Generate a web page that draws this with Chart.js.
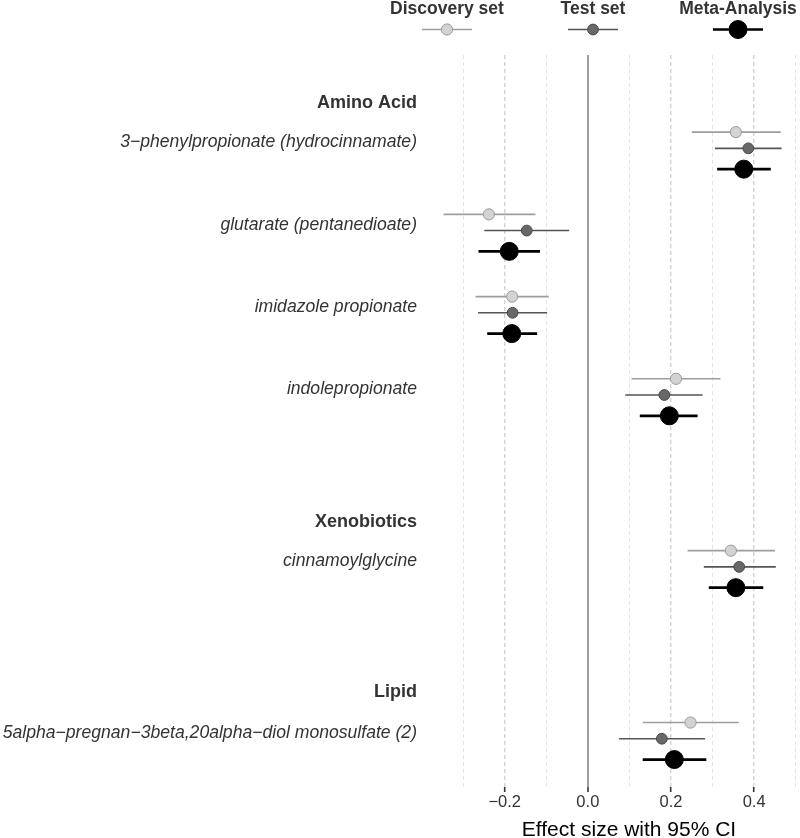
<!DOCTYPE html>
<html>
<head>
<meta charset="utf-8">
<title>Effect size with 95% CI</title>
<script src="https://cdn.jsdelivr.net/npm/chart.js@4.4.1/dist/chart.umd.min.js"></script>
<style>
  html, body { margin: 0; padding: 0; background: #fff; overflow: hidden; }
  /* the original figure is cropped on the right, so the panel runs past the window */
  #wrap { width: 824px; height: 838px; position: relative; }
</style>
</head>
<body>
<div id="wrap"><canvas id="forest"></canvas></div>
<script>
// metabolites, top to bottom, and the class headers
const metabolites = [
  '3\u2212phenylpropionate (hydrocinnamate)',
  'glutarate (pentanedioate)',
  'imidazole propionate',
  'indolepropionate',
  'cinnamoylglycine',
  '5alpha\u2212pregnan\u22123beta,20alpha\u2212diol monosulfate (2)'
];
const classes = ['Amino Acid', 'Xenobiotics', 'Lipid'];

// effect sizes and 95% CI bounds
const discoveryEst = [0.356, -0.238, -0.182, 0.212, 0.344, 0.247];
const discoveryLo  = [0.250, -0.347, -0.270, 0.105, 0.240, 0.132];
const discoveryHi  = [0.464, -0.126, -0.094, 0.319, 0.450, 0.363];

const testEst = [0.386, -0.147, -0.181, 0.184, 0.364, 0.178];
const testLo  = [0.306, -0.249, -0.264, 0.090, 0.279, 0.075];
const testHi  = [0.466, -0.045, -0.098, 0.276, 0.452, 0.282];

const metaEst = [0.375, -0.189, -0.183, 0.196, 0.356, 0.208];
const metaLo  = [0.311, -0.263, -0.242, 0.125, 0.291, 0.132];
const metaHi  = [0.440, -0.115, -0.122, 0.264, 0.422, 0.285];

// axis ticks / grid
const xTicks = [-0.2, 0.0, 0.2, 0.4];
const xGrid = [-0.3, -0.2, -0.1, 0.0, 0.1, 0.2, 0.3, 0.4, 0.5];

// vertical slots on the (reversed) y scale
const rowPos = [1, 2, 3, 4, 6.09, 8.18];
const classPos = [0.445, 5.544, 7.611];

const FONT = '"Liberation Sans", Arial, Helvetica, sans-serif';

const series = [
  { name: 'Discovery set', est: discoveryEst, lo: discoveryLo, hi: discoveryHi,
    shift: -0.197, fill: '#d3d3d3', stroke: '#999999', line: '#9e9e9e', lineWidth: 1.6, radius: 5.6 },
  { name: 'Test set', est: testEst, lo: testLo, hi: testHi,
    shift: 0, fill: '#686868', stroke: '#484848', line: '#555555', lineWidth: 1.6, radius: 5.4 },
  { name: 'Meta-Analysis', est: metaEst, lo: metaLo, hi: metaHi,
    shift: 0.253, fill: '#000000', stroke: '#000000', line: '#000000', lineWidth: 2.7, radius: 9 }
];
const legendX = [447, 593, 738];

const datasets = [];
series.forEach(s => {
  const ci = [];
  metabolites.forEach((m, i) => {
    const y = rowPos[i] + s.shift;
    ci.push({ x: s.lo[i], y: y }, { x: s.hi[i], y: y }, { x: null, y: null });
  });
  datasets.push({
    label: s.name + ' CI', data: ci, showLine: true, spanGaps: false,
    borderColor: s.line, borderWidth: s.lineWidth, pointRadius: 0, order: 2
  });
  datasets.push({
    label: s.name, data: s.est.map((v, i) => ({ x: v, y: rowPos[i] + s.shift })),
    pointRadius: s.radius, backgroundColor: s.fill, borderColor: s.stroke,
    borderWidth: 1, order: 1
  });
});

function fmt(v) {
  const t = Math.abs(v).toFixed(1);
  return v < 0 ? '\u2212' + t : t;
}

// row labels, class headers and the legend on top
const labelsPlugin = {
  id: 'forestLabels',
  afterDraw(chart) {
    const c = chart.ctx;
    const y = chart.scales.y;
    const right = chart.chartArea.left - 17;
    c.save();
    c.textAlign = 'right';
    c.textBaseline = 'middle';
    c.fillStyle = '#333333';
    c.font = 'italic 17.6px ' + FONT;
    metabolites.forEach((m, i) => c.fillText(m, right, y.getPixelForValue(rowPos[i] - 0.07)));
    c.font = 'bold 18px ' + FONT;
    classes.forEach((g, i) => c.fillText(g, right, y.getPixelForValue(classPos[i])));

    // legend
    c.textAlign = 'center';
    series.forEach((s, i) => {
      const lx = legendX[i];
      c.fillStyle = '#333333';
      c.font = 'bold 17.5px ' + FONT;
      c.fillText(s.name, lx, 9.5);
      c.strokeStyle = s.line;
      c.lineWidth = s.lineWidth;
      c.beginPath();
      c.moveTo(lx - 25, 29.5);
      c.lineTo(lx + 25, 29.5);
      c.stroke();
      c.beginPath();
      c.arc(lx, 29.5, s.radius, 0, Math.PI * 2);
      c.fillStyle = s.fill;
      c.fill();
      c.lineWidth = 1;
      c.strokeStyle = s.stroke;
      c.stroke();
    });
    c.restore();
  }
};

const ctx = document.getElementById('forest').getContext('2d');
const forestChart = new Chart(ctx, {
  type: 'scatter',
  data: { datasets: datasets },
  options: {
    responsive: true,
    maintainAspectRatio: false,
    animation: false,
    layout: { autoPadding: false, padding: { left: 434, top: 55, right: 0, bottom: 0 } },
    plugins: {
      legend: { display: false },
      tooltip: { enabled: false }
    },
    scales: {
      x: {
        type: 'linear',
        min: -0.37,
        max: 0.568,
        afterBuildTicks: scale => { scale.ticks = xGrid.map(v => ({ value: v })); },
        afterFit: scale => { scale.paddingLeft = 0; scale.paddingRight = 0; },
        ticks: {
          autoSkip: false,
          maxRotation: 0,
          padding: 2.5,
          color: '#333333',
          font: { family: FONT, size: 16.5, lineHeight: 1 },
          callback: v => xTicks.includes(v) ? fmt(v) : ''
        },
        grid: {
          color: c => {
            const v = c.tick.value;
            if (v === 0) return '#a0a0a0';
            return xTicks.includes(v) ? '#d2d2d2' : '#e4e4e4';
          },
          lineWidth: c => {
            const v = c.tick.value;
            if (v === 0) return 2;
            return xTicks.includes(v) ? 1.4 : 1;
          },
          tickColor: c => xTicks.includes(c.tick.value) ? '#333333' : 'rgba(0,0,0,0)',
          tickWidth: 1.6,
          tickLength: 5
        },
        border: {
          display: false,
          dash: c => (c.tick && c.tick.value === 0) ? [] : [4, 3]
        },
        title: {
          display: true,
          text: 'Effect size with 95% CI',
          color: '#000000',
          font: { family: FONT, size: 21, lineHeight: 1 },
          padding: { top: 6, bottom: -2.5 }
        }
      },
      y: {
        type: 'linear',
        min: -0.135,
        max: 8.767,
        reverse: true,
        display: false
      }
    }
  },
  plugins: [labelsPlugin]
});
</script>
</body>
</html>
